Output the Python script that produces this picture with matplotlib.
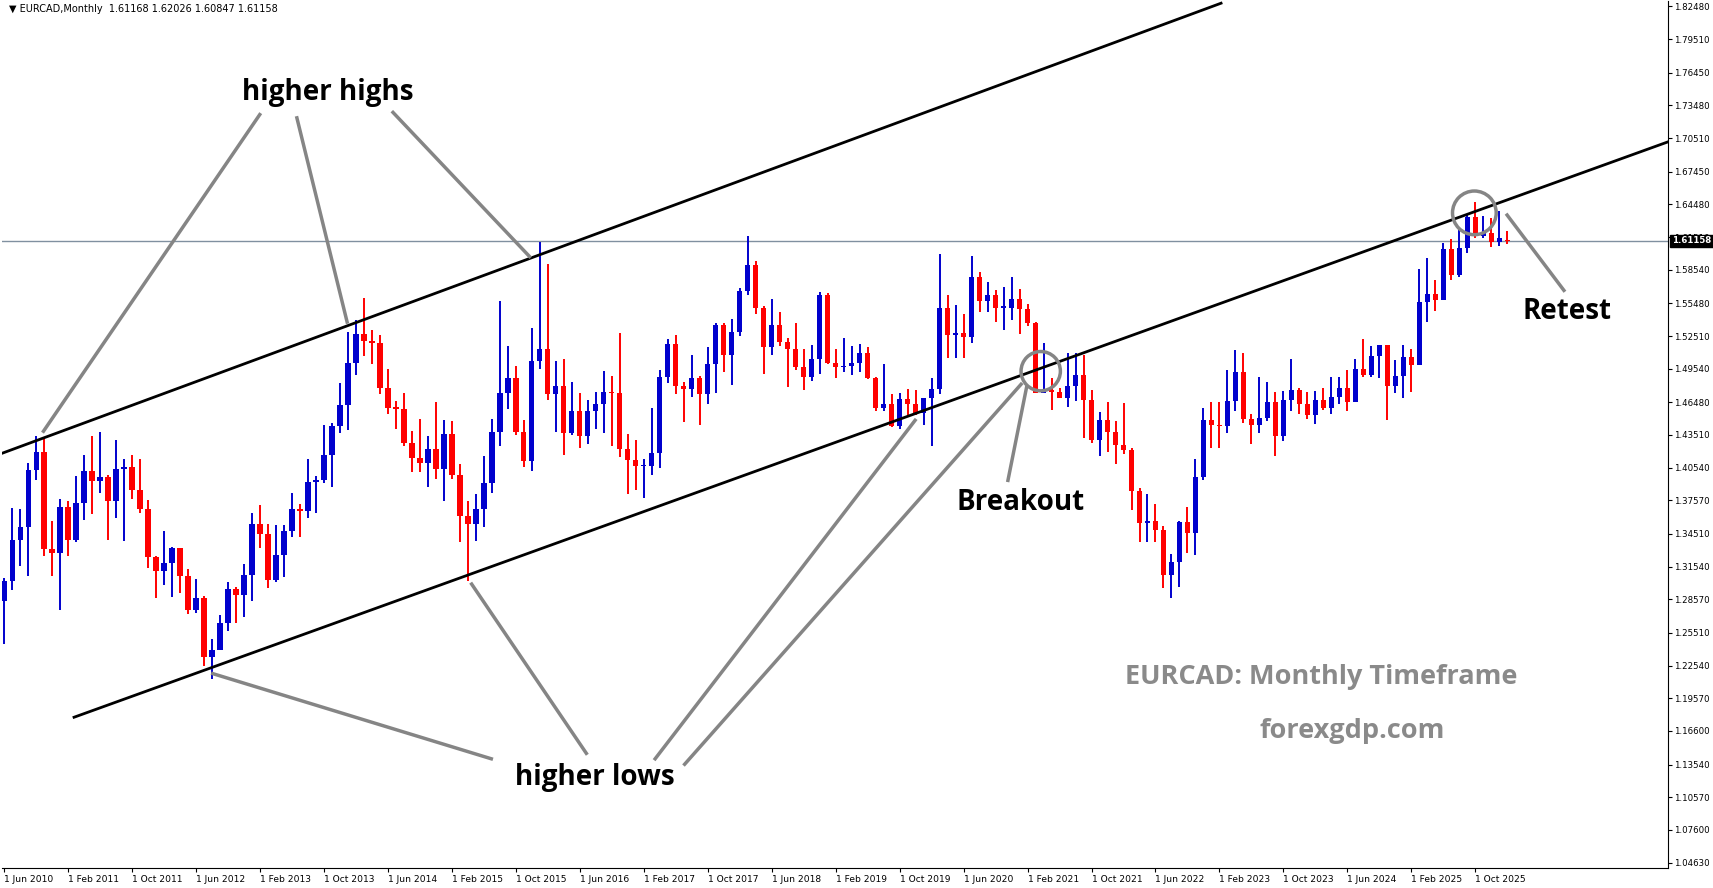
import matplotlib
matplotlib.use("Agg")
import matplotlib.pyplot as plt
from matplotlib.patches import Rectangle, Ellipse

close = [1.302,1.340,1.351,1.403,1.420,1.331,1.328,1.370,1.340,1.373,1.402,1.393,1.397,1.375,1.404,1.406,1.385,1.368,1.324,1.311,
         1.319,1.332,1.307,1.276,1.287,1.233,1.240,1.264,1.295,1.290,1.308,1.354,1.345,1.303,1.326,1.348,1.368,1.366,1.392,1.394,
         1.417,1.443,1.462,1.501,1.527,1.521,1.519,1.478,1.460,1.459,1.428,1.414,1.410,1.422,1.404,1.436,1.399,1.361,1.354,1.368,
         1.391,1.438,1.473,1.487,1.438,1.411,1.502,1.513,1.472,1.480,1.437,1.457,1.434,1.457,1.463,1.474,1.473,1.422,1.412,1.407,
         1.407,1.419,1.488,1.518,1.480,1.477,1.487,1.472,1.500,1.535,1.508,1.529,1.566,1.590,1.551,1.515,1.535,1.520,1.513,1.497,
         1.488,1.504,1.562,1.501,1.497,1.498,1.501,1.510,1.487,1.460,1.463,1.443,1.468,1.463,1.455,1.469,1.477,1.551,1.526,1.528,
         1.524,1.579,1.557,1.562,1.551,1.551,1.559,1.550,1.537,1.473,1.476,1.474,1.469,1.480,1.490,1.467,1.431,1.449,1.438,1.426,
         1.421,1.384,1.355,1.357,1.349,1.308,1.320,1.356,1.346,1.397,1.449,1.444,1.443,1.466,1.492,1.450,1.444,1.451,1.465,1.434,
         1.467,1.476,1.463,1.453,1.467,1.460,1.470,1.478,1.465,1.495,1.490,1.507,1.517,1.480,1.489,1.506,1.499,1.556,1.563,1.558,
         1.604,1.581,1.605,1.633,1.616,1.619,1.611,1.614,1.61158]
high = [1.305,1.369,1.368,1.410,1.434,1.432,1.357,1.377,1.375,1.398,1.417,1.434,1.438,1.399,1.431,1.413,1.417,1.413,1.376,1.325,
        1.348,1.333,1.332,1.313,1.304,1.289,1.250,1.271,1.301,1.297,1.318,1.364,1.371,1.354,1.353,1.353,1.382,1.372,1.413,1.398,
        1.444,1.446,1.482,1.529,1.540,1.560,1.531,1.526,1.495,1.466,1.473,1.439,1.450,1.434,1.465,1.449,1.448,1.409,1.375,1.381,
        1.416,1.450,1.557,1.516,1.498,1.449,1.532,1.611,1.591,1.502,1.504,1.483,1.473,1.467,1.474,1.493,1.489,1.528,1.436,1.431,
        1.413,1.460,1.494,1.522,1.526,1.483,1.508,1.489,1.515,1.537,1.537,1.541,1.569,1.616,1.593,1.552,1.559,1.547,1.523,1.537,
        1.513,1.517,1.565,1.564,1.513,1.523,1.516,1.518,1.515,1.488,1.500,1.472,1.473,1.477,1.476,1.469,1.487,1.600,1.562,1.553,
        1.545,1.598,1.583,1.574,1.567,1.570,1.579,1.568,1.554,1.538,1.519,1.487,1.478,1.510,1.510,1.508,1.476,1.456,1.465,1.448,
        1.464,1.423,1.387,1.381,1.372,1.352,1.327,1.357,1.370,1.413,1.460,1.465,1.465,1.494,1.512,1.510,1.454,1.488,1.483,1.474,
        1.475,1.504,1.478,1.474,1.475,1.478,1.488,1.488,1.494,1.504,1.522,1.516,1.517,1.517,1.503,1.517,1.513,1.586,1.596,1.576,
        1.610,1.613,1.622,1.635,1.647,1.634,1.632,1.639,1.62026]
low = [1.245,1.294,1.316,1.307,1.394,1.325,1.307,1.276,1.325,1.338,1.358,1.363,1.382,1.340,1.360,1.339,1.377,1.364,1.314,1.287,
       1.299,1.288,1.291,1.272,1.273,1.225,1.213,1.260,1.257,1.264,1.270,1.284,1.332,1.296,1.301,1.306,1.342,1.342,1.360,1.364,
       1.391,1.388,1.437,1.440,1.490,1.507,1.500,1.472,1.454,1.441,1.425,1.401,1.401,1.388,1.395,1.375,1.395,1.338,1.302,1.339,
       1.351,1.382,1.425,1.459,1.435,1.406,1.402,1.495,1.467,1.438,1.417,1.435,1.423,1.427,1.441,1.437,1.425,1.415,1.381,1.385,
       1.378,1.399,1.405,1.482,1.472,1.447,1.470,1.444,1.463,1.473,1.492,1.481,1.525,1.562,1.545,1.491,1.508,1.516,1.479,1.494,
       1.476,1.484,1.491,1.500,1.487,1.492,1.490,1.492,1.486,1.457,1.457,1.442,1.441,1.453,1.453,1.444,1.425,1.472,1.505,1.505,
       1.505,1.519,1.547,1.547,1.538,1.531,1.540,1.527,1.534,1.473,1.473,1.458,1.469,1.461,1.466,1.432,1.428,1.416,1.420,1.409,
       1.418,1.367,1.338,1.338,1.338,1.296,1.287,1.297,1.328,1.326,1.394,1.423,1.423,1.437,1.457,1.446,1.427,1.437,1.448,1.416,
       1.430,1.457,1.454,1.450,1.445,1.458,1.454,1.463,1.457,1.467,1.488,1.488,1.487,1.449,1.473,1.469,1.474,1.500,1.538,1.548,
       1.558,1.576,1.579,1.601,1.614,1.614,1.606,1.607,1.60847]
first_open = 1.284
last_open = 1.61168

tick_values = [1.82480,1.79510,1.76450,1.73480,1.70510,1.67450,1.64480,1.61510,1.58540,1.55480,1.52510,1.49540,1.46480,
               1.43510,1.40540,1.37570,1.34510,1.31540,1.28570,1.25510,1.22540,1.19570,1.16600,1.13540,1.10570,1.07600,1.04630]
x_labels = ["1 Jun 2010","1 Feb 2011","1 Oct 2011","1 Jun 2012","1 Feb 2013","1 Oct 2013","1 Jun 2014","1 Feb 2015",
            "1 Oct 2015","1 Jun 2016","1 Feb 2017","1 Oct 2017","1 Jun 2018","1 Feb 2019","1 Oct 2019","1 Jun 2020",
            "1 Feb 2021","1 Oct 2021","1 Jun 2022","1 Feb 2023","1 Oct 2023","1 Jun 2024","1 Feb 2025","1 Oct 2025"]
last_price = 1.61158
upper_line = [(-0.55, 1.4177), (152.2, 1.8278)]
lower_line = [(8.74, 1.1784), (208.1, 1.7017)]

W, H = 1713, 888
fig = plt.figure(figsize=(W/100, H/100), dpi=100)
ax = fig.add_axes([2/W, 20/H, 1666/W, 867/H])
XMIN, XMAX, YMIN, YMAX = -0.27, 208.1, 1.0413, 1.8298
ax.set_xlim(XMIN, XMAX); ax.set_ylim(YMIN, YMAX)

def D(xd, yd):
    return ((xd - 4) / 7.32, 1.8248 - (yd - 6) * 0.000993)

opens = [first_open] + close[:-1]
opens[-1] = last_open
for i, (o, h, l, c) in enumerate(zip(opens, high, low, close)):
    col = '#0000CD' if c >= o else '#FF0000'
    ax.plot([i, i], [l, h], color=col, lw=1.4, solid_capstyle='butt', zorder=3)
    bh = abs(c - o)
    ax.add_patch(Rectangle((i - 0.33, min(o, c)), 0.66, max(bh, 0.0012), color=col, lw=0, zorder=4))

ax.axhline(last_price, color='#8090A0', lw=1, zorder=2)
for (a, b) in [upper_line, lower_line]:
    ax.plot([a[0], b[0]], [a[1], b[1]], color='black', lw=2, zorder=5)

gray = '#858585'
segs = [((238,105),(40,395)), ((272,108),(318,295)), ((360,103),(485,235)),
        ((195,617),(450,695)), ((432,535),(537,690)), ((600,695),(838,385)), ((627,700),(935,352)),
        ((923,440),(940,355)), ((1432,266),(1380,197))]
for p, q in segs:
    a = D(*p); b = D(*q)
    ax.plot([a[0], b[0]], [a[1], b[1]], color=gray, lw=2.5, zorder=6)

for (cx, cy, r) in [(953, 340, 18), (1350, 195, 20)]:
    c = D(cx, cy)
    ax.add_patch(Ellipse(c, 2 * r / 7.32, 2 * r * 0.000993, fill=False, ec=gray, lw=2.5, zorder=7))

tf = dict(family='Open Sans', weight='bold', color='black', ha='center', va='center', fontsize=20, zorder=8)
for txt, (x, y) in [("higher highs", (300, 85)), ("higher lows", (545, 712)),
                    ("Breakout", (935, 460)), ("Retest", (1435, 285))]:
    ax.text(*D(x, y), txt, **tf)
wf = dict(family='Open Sans', weight='bold', color='#8A8A8A', ha='center', va='center', fontsize=19.5)
ax.text(*D(1210, 620), "EURCAD: Monthly Timeframe", **wf)
ax.text(*D(1238, 670), "forexgdp.com", **wf)

ax.text(0.004, 0.997, "▼ EURCAD,Monthly  1.61168 1.62026 1.60847 1.61158", transform=ax.transAxes,
        fontsize=7, ha='left', va='top', family='DejaVu Sans')

ax.yaxis.tick_right()
ax.set_yticks(tick_values)
ax.set_yticklabels([f"{v:.5f}" for v in tick_values], fontsize=6.2)
ax.set_xticks(list(range(0, 185, 8)))
ax.set_xticklabels(x_labels, fontsize=6.6, ha='left')
ax.tick_params(axis='both', length=3, width=0.8, pad=2)
ax.tick_params(axis='y', pad=1.5)
ax.text(1.0025, last_price, "1.61158", transform=ax.get_yaxis_transform(), fontsize=6.2, color='white',
        ha='left', va='center', weight='bold', bbox=dict(boxstyle='square,pad=0.2', fc='black', ec='black'))
for s in ['top', 'left']:
    ax.spines[s].set_visible(False)
fig.savefig("out.png", dpi=100)
